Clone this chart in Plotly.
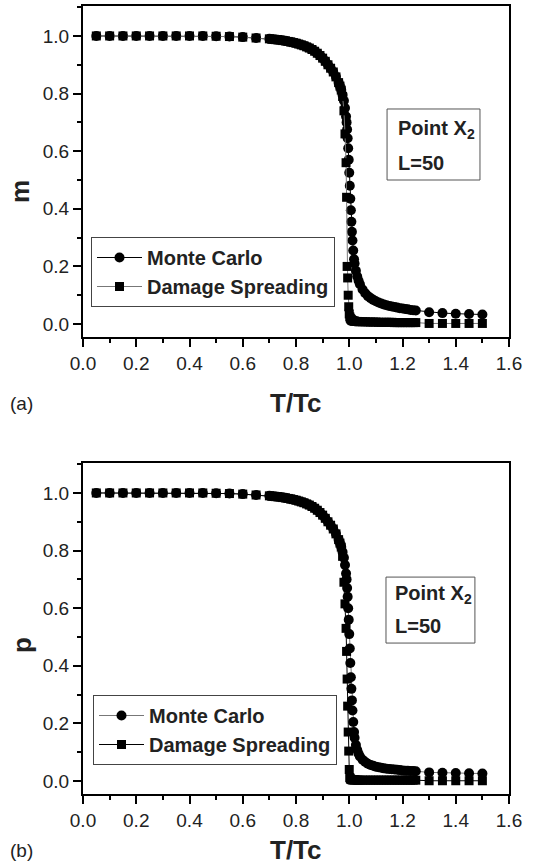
import plotly.graph_objects as go

# Temperature grid T/Tc (shared by all series)
T = [0.05, 0.10, 0.15, 0.20, 0.25, 0.30, 0.35, 0.40, 0.45, 0.50, 0.55, 0.60, 0.65,
     0.70, 0.71, 0.72, 0.73, 0.74, 0.75, 0.76, 0.77, 0.78, 0.79, 0.80, 0.81, 0.82, 0.83,
     0.84, 0.85, 0.86, 0.87, 0.88, 0.89, 0.90, 0.91, 0.92, 0.93, 0.94, 0.95, 0.96,
     0.965, 0.97, 0.975, 0.98, 0.984, 0.988, 0.99, 0.992, 0.994, 0.996, 0.998, 1.0,
     1.002, 1.004, 1.006, 1.008, 1.01, 1.012, 1.015, 1.018, 1.02, 1.025, 1.03, 1.035,
     1.04, 1.05, 1.06, 1.07, 1.08, 1.09, 1.10, 1.11, 1.12, 1.13, 1.14, 1.15, 1.16,
     1.17, 1.18, 1.19, 1.20, 1.21, 1.22, 1.23, 1.24, 1.25,
     1.30, 1.35, 1.40, 1.45, 1.50]

upper = [1.0, 1.0, 1.0, 1.0, 1.0, 1.0, 1.0, 1.0, 1.0, 0.999, 0.998, 0.996, 0.993,
         0.990, 0.989, 0.988, 0.987, 0.986, 0.984, 0.983, 0.981, 0.979, 0.977, 0.975,
         0.972, 0.969, 0.966, 0.962, 0.958, 0.953, 0.947, 0.940, 0.932, 0.923, 0.912,
         0.900, 0.888, 0.875, 0.858, 0.838]

# panel (a): magnetisation m
m_monte_carlo = upper + [
    0.826, 0.812, 0.795, 0.775, 0.750, 0.720, 0.700, 0.675, 0.645, 0.610, 0.570, 0.525,
    0.480, 0.435, 0.395, 0.355, 0.320, 0.290, 0.255, 0.225, 0.210, 0.185, 0.165, 0.150,
    0.138, 0.120, 0.107, 0.097, 0.090, 0.084, 0.079, 0.075, 0.071, 0.068, 0.065, 0.063,
    0.061, 0.059, 0.057, 0.055, 0.054, 0.052, 0.051, 0.049, 0.048, 0.047,
    0.041, 0.038, 0.036, 0.035, 0.033]
m_damage = upper + [
    0.826, 0.812, 0.790, 0.740, 0.660, 0.560, 0.440, 0.200, 0.160, 0.100, 0.060, 0.035,
    0.025, 0.020, 0.017, 0.015, 0.013, 0.012, 0.011, 0.010, 0.010, 0.009, 0.009, 0.008,
    0.008, 0.008, 0.008, 0.007, 0.007, 0.007, 0.007, 0.006, 0.006, 0.006, 0.006, 0.006,
    0.006, 0.005, 0.005, 0.005, 0.005, 0.005, 0.005, 0.005, 0.005, 0.005,
    0.002, 0.002, 0.002, 0.002, 0.002]

# panel (b): order parameter p
p_monte_carlo = upper + [
    0.826, 0.812, 0.795, 0.775, 0.750, 0.720, 0.700, 0.670, 0.640, 0.600, 0.560, 0.510,
    0.460, 0.410, 0.360, 0.320, 0.280, 0.245, 0.205, 0.170, 0.150, 0.125, 0.108, 0.095,
    0.085, 0.074, 0.066, 0.060, 0.056, 0.053, 0.050, 0.048, 0.046, 0.044, 0.043, 0.042,
    0.041, 0.040, 0.039, 0.038, 0.037, 0.036, 0.036, 0.035, 0.035, 0.034,
    0.030, 0.029, 0.028, 0.027, 0.026]
p_damage = upper + [
    0.826, 0.812, 0.780, 0.690, 0.615, 0.530, 0.450, 0.354, 0.260, 0.170, 0.104, 0.040,
    0.012, 0.008, 0.006, 0.005, 0.005, 0.004, 0.004, 0.004, 0.004, 0.004, 0.003, 0.003,
    0.003, 0.003, 0.003, 0.003, 0.003, 0.003, 0.003, 0.003, 0.003, 0.003, 0.003, 0.003,
    0.003, 0.003, 0.003, 0.003, 0.003, 0.003, 0.003, 0.003, 0.003, 0.003,
    0.001, 0.001, 0.001, 0.001, 0.001]

series_names = ["Monte Carlo", "Damage Spreading"]
x_ticks = [0.0, 0.2, 0.4, 0.6, 0.8, 1.0, 1.2, 1.4, 1.6]
y_ticks = [0.0, 0.2, 0.4, 0.6, 0.8, 1.0]

FONT = "Liberation Sans, Arial, Helvetica, sans-serif"

fig = go.Figure()

def add_pair(mc, ds, xa, ya, leg, mc_line, ds_line):
    fig.add_trace(go.Scatter(
        x=T, y=mc, mode="lines+markers", name=series_names[0],
        xaxis=xa, yaxis=ya, legend=leg,
        line=dict(color=mc_line, width=1),
        marker=dict(symbol="circle", size=10, color="black", line=dict(width=0))))
    fig.add_trace(go.Scatter(
        x=T, y=ds, mode="lines+markers", name=series_names[1],
        xaxis=xa, yaxis=ya, legend=leg,
        line=dict(color=ds_line, width=1),
        marker=dict(symbol="square", size=9, color="black", line=dict(width=0))))

add_pair(m_monte_carlo, m_damage, "x", "y", "legend", "black", "#777777")
add_pair(p_monte_carlo, p_damage, "x2", "y2", "legend2", "#777777", "black")

axis_common = dict(
    range=[0, 1.6], tickvals=x_ticks, ticktext=[f"{v:.1f}" for v in x_ticks],
    ticks="outside", ticklen=8, tickwidth=2, tickcolor="black",
    minor=dict(dtick=0.1, ticks="outside", ticklen=4, tickwidth=2, tickcolor="black"),
    showline=True, linewidth=2, linecolor="black", mirror=True,
    showgrid=False, zeroline=False, automargin=False,
    tickfont=dict(family=FONT, size=19, color="#222"))
yaxis_common = dict(
    range=[-0.045, 1.104], tickvals=y_ticks, ticktext=[f"{v:.1f}" for v in y_ticks],
    ticks="outside", ticklen=8, tickwidth=2, tickcolor="black",
    minor=dict(dtick=0.1, ticks="outside", ticklen=4, tickwidth=2, tickcolor="black"),
    showline=True, linewidth=2, linecolor="black", mirror=True,
    showgrid=False, zeroline=False, automargin=False,
    tickfont=dict(family=FONT, size=19, color="#222"))

H = 867
ML, MR, MT, MB = 83, 47, 6, 73
PW = 556 - ML - MR
PH = H - MT - MB

def py(px_y):
    return (H - MB - px_y) / PH

def px(px_x):
    return (px_x - ML) / PW

fig.update_layout(
    width=556, height=H,
    margin=dict(l=ML, r=MR, t=MT, b=MB),
    paper_bgcolor="white", plot_bgcolor="white",
    font=dict(family=FONT, color="#222"),
    xaxis=dict(axis_common, anchor="y"),
    yaxis=dict(yaxis_common, anchor="x", domain=[py(337), 1.0]),
    xaxis2=dict(axis_common, anchor="y2"),
    yaxis2=dict(yaxis_common, anchor="x2", domain=[0.0, py(463)]),
    legend=dict(x=px(91), y=py(237), xanchor="left", yanchor="top",
                bgcolor="white", bordercolor="#444", borderwidth=1,
                font=dict(family=FONT, size=20, color="#222", weight="bold"),
                itemwidth=45, tracegroupgap=0),
    legend2=dict(x=px(93), y=py(695), xanchor="left", yanchor="top",
                 bgcolor="white", bordercolor="#444", borderwidth=1,
                 font=dict(family=FONT, size=20, color="#222", weight="bold"),
                 itemwidth=45, tracegroupgap=0),
    showlegend=True,
)

bold = dict(family=FONT, size=26, color="#222", weight="bold")
reg = dict(family=FONT, size=19, color="#222")
ann = [
    dict(text="T/Tc", x=0.5, y=py(403), font=bold),
    dict(text="T/Tc", x=0.5, y=py(850), font=bold),
    dict(text="(a)", x=px(22), y=py(403), font=reg),
    dict(text="(b)", x=px(22), y=py(850), font=reg),
    dict(text="m", x=px(20), y=py(192), font=bold, textangle=-90),
    dict(text="p", x=px(22), y=py(645), font=bold, textangle=-90),
]
for a in ann:
    fig.add_annotation(xref="paper", yref="paper", showarrow=False,
                       xanchor="center", yanchor="middle", **a)

# "Point X2 / L=50" boxes
label_font = dict(family=FONT, size=20, color="#222", weight="bold")
for (xr, yr, x0, x1, y0, y1, tx, l1, l2) in [
    ("x", "y", 1.142, 1.491, 0.500, 0.7465, 1.176, 0.674, 0.559),
    ("x2", "y2", 1.138, 1.472, 0.479, 0.708, 1.163, 0.649, 0.538),
]:
    fig.add_shape(type="rect", xref=xr, yref=yr, x0=x0, x1=x1, y0=y0, y1=y1,
                  line=dict(color="#555", width=1), fillcolor="white", layer="above")
    fig.add_annotation(xref=xr, yref=yr, x=tx, y=l1, text="Point X<sub>2</sub>",
                       showarrow=False, xanchor="left", yanchor="middle", font=label_font)
    fig.add_annotation(xref=xr, yref=yr, x=tx, y=l2, text="L=50",
                       showarrow=False, xanchor="left", yanchor="middle", font=label_font)

fig.write_html("out.html", config={"displayModeBar": False},
               post_script="document.body.style.margin='0px';document.body.style.overflow='hidden';")
